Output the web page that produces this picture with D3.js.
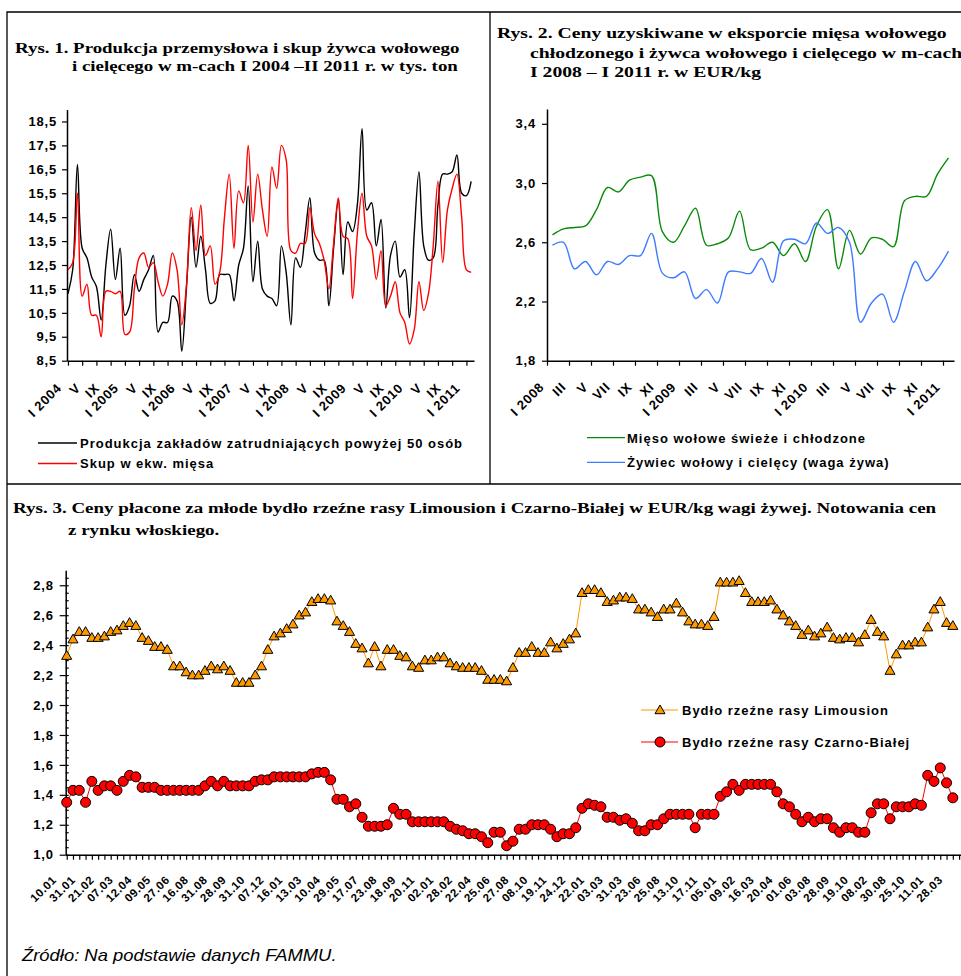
<!DOCTYPE html>
<html>
<head>
<meta charset="utf-8">
<script src="https://cdn.jsdelivr.net/npm/d3@7"></script>
<style>
  body { margin: 0; background: #fff; }
  .title { font-family: "Liberation Serif", "Times New Roman", serif; font-weight: bold; font-size: 15.5px; }
  .lbl { font-family: "Liberation Sans", Arial, sans-serif; font-weight: bold; }
</style>
</head>
<body>
<svg id="chart" width="961" height="976"></svg>
<script>
// Rys. 1 - monthly, I 2004 .. II 2011 (tys. ton)
const fig1Labels = ["I 2004", "V", "IX", "I 2005", "V", "IX", "I 2006", "V", "IX", "I 2007", "V", "IX",
    "I 2008", "V", "IX", "I 2009", "V", "IX", "I 2010", "V", "IX", "I 2011"];
const fig1Production = [11.3, 12.3, 16.7, 13.2, 12.8, 12.0, 11.6, 10.2, 12.5, 14.0,
    11.9, 13.2, 10.4, 10.8, 12.1, 11.4, 11.9, 12.3, 12.9, 9.7,
    10.1, 10.1, 11.2, 11.0, 8.9, 11.6, 14.5, 12.4, 13.7, 12.3,
    10.9, 11.0, 12.1, 12.1, 12.1, 11.0, 12.5, 13.2, 15.8, 11.8,
    13.5, 11.5, 11.2, 11.1, 10.8, 13.3, 12.2, 10.0, 12.8, 12.4,
    13.8, 15.3, 13.0, 12.7, 12.7, 10.8, 13.2, 15.2, 12.1, 14.3,
    13.9, 15.0, 18.2, 14.8, 15.1, 13.3, 14.4, 10.7, 12.9, 13.5,
    12.0, 12.3, 10.3, 13.8, 16.4, 13.3, 12.7, 12.8, 15.0, 16.3,
    16.3, 16.4, 17.1, 15.5, 15.4, 16.0];
const fig1Purchase = [12.3, 12.6, 15.5, 11.2, 11.7, 10.4, 10.4, 9.5, 11.4, 11.4,
    11.3, 11.4, 9.6, 9.7, 11.5, 12.8, 13.0, 12.4, 12.6, 11.8,
    11.2, 11.7, 13.0, 12.3, 10.0, 11.7, 14.9, 13.1, 15.0, 12.9,
    13.3, 11.7, 12.2, 14.5, 16.3, 13.2, 15.6, 15.1, 17.5, 14.3,
    16.3, 14.8, 13.7, 16.6, 15.7, 17.5, 16.9, 13.1, 13.0, 13.4,
    13.4, 14.9, 13.8, 13.4, 12.7, 11.5, 13.4, 15.3, 13.7, 13.6,
    11.1, 13.8, 15.5, 13.7, 13.3, 11.9, 13.1, 10.8, 11.2, 11.8,
    10.5, 10.1, 9.2, 9.8, 11.8, 10.6, 11.3, 13.3, 16.0, 12.6,
    14.8, 15.7, 16.3, 14.5, 12.3, 12.2];
const fig1Ticks = [8.5, 9.5, 10.5, 11.5, 12.5, 13.5, 14.5, 15.5, 16.5, 17.5, 18.5];
const fig1Legend = ["Produkcja zakładów zatrudniających powyżej 50 osób", "Skup w ekw. mięsa"];

// Rys. 2 - monthly, I 2008 .. I 2011 (EUR/kg)
const fig2Labels = ["I 2008", "III", "V", "VII", "IX", "XI", "I 2009", "III", "V", "VII", "IX", "XI",
    "I 2010", "III", "V", "VII", "IX", "XI", "I 2011"];
const fig2Meat = [2.65, 2.69, 2.70, 2.71, 2.82, 2.97, 2.94, 3.02, 3.04, 3.05,
    2.67, 2.60, 2.71, 2.83, 2.58, 2.59, 2.63, 2.81, 2.55, 2.56,
    2.60, 2.51, 2.59, 2.47, 2.71, 2.82, 2.42, 2.68, 2.52, 2.63,
    2.62, 2.57, 2.88, 2.91, 2.91, 3.06, 3.17];
const fig2Live = [2.58, 2.60, 2.42, 2.47, 2.38, 2.47, 2.45, 2.51, 2.51, 2.66,
    2.39, 2.36, 2.40, 2.22, 2.28, 2.19, 2.40, 2.40, 2.39, 2.49,
    2.33, 2.61, 2.62, 2.59, 2.73, 2.66, 2.70, 2.60, 2.06, 2.19,
    2.25, 2.06, 2.27, 2.47, 2.34, 2.42, 2.54];
const fig2Ticks = [1.8, 2.2, 2.6, 3.0, 3.4];
const fig2Legend = ["Mięso wołowe świeże i chłodzone", "Żywiec wołowy i cielęcy (waga żywa)"];

// Rys. 3 - weekly quotations (EUR/kg), labels on every third quotation
const fig3Labels = ["10.01", "31.01", "21.02", "07.03", "12.04", "09.05", "27.06", "16.08", "31.08", "28.09",
    "31.10", "07.12", "16.01", "13.03", "10.04", "29.05", "17.07", "23.08", "18.09", "20.11",
    "02.01", "28.02", "22.04", "25.06", "27.08", "08.10", "19.11", "24.12", "22.01", "03.03",
    "31.03", "23.06", "25.08", "13.10", "17.11", "05.01", "09.02", "16.03", "20.04", "01.06",
    "03.08", "28.09", "19.10", "08.02", "30.08", "25.10", "11.01", "28.03"];
const fig3Limousin = [2.33, 2.44, 2.49, 2.49, 2.45, 2.45, 2.46, 2.49, 2.50, 2.53,
    2.55, 2.53, 2.45, 2.43, 2.39, 2.39, 2.37, 2.26, 2.26, 2.22,
    2.20, 2.20, 2.23, 2.26, 2.24, 2.26, 2.23, 2.15, 2.15, 2.15,
    2.20, 2.26, 2.37, 2.46, 2.48, 2.51, 2.54, 2.60, 2.62, 2.69,
    2.71, 2.71, 2.70, 2.56, 2.53, 2.49, 2.41, 2.38, 2.28, 2.39,
    2.26, 2.37, 2.37, 2.33, 2.32, 2.26, 2.25, 2.30, 2.30, 2.32,
    2.32, 2.28, 2.26, 2.25, 2.25, 2.25, 2.23, 2.17, 2.17, 2.17,
    2.16, 2.25, 2.35, 2.35, 2.39, 2.35, 2.35, 2.42, 2.38, 2.41,
    2.44, 2.48, 2.75, 2.77, 2.77, 2.75, 2.69, 2.70, 2.72, 2.72,
    2.71, 2.64, 2.64, 2.62, 2.59, 2.64, 2.64, 2.68, 2.62, 2.56,
    2.54, 2.54, 2.53, 2.59, 2.82, 2.82, 2.82, 2.83, 2.75, 2.69,
    2.69, 2.69, 2.70, 2.64, 2.60, 2.56, 2.53, 2.47, 2.50, 2.46,
    2.48, 2.52, 2.45, 2.44, 2.45, 2.45, 2.42, 2.47, 2.57, 2.49,
    2.46, 2.23, 2.34, 2.40, 2.40, 2.42, 2.42, 2.52, 2.64, 2.69,
    2.55, 2.53];
const fig3BlackWhite = [1.35, 1.43, 1.43, 1.35, 1.49, 1.43, 1.46, 1.46, 1.43, 1.49,
    1.53, 1.52, 1.45, 1.45, 1.45, 1.43, 1.43, 1.43, 1.43, 1.43,
    1.43, 1.43, 1.46, 1.49, 1.46, 1.49, 1.46, 1.46, 1.46, 1.46,
    1.49, 1.50, 1.50, 1.52, 1.52, 1.52, 1.52, 1.52, 1.52, 1.54,
    1.55, 1.55, 1.50, 1.37, 1.37, 1.32, 1.34, 1.25, 1.19, 1.19,
    1.19, 1.20, 1.31, 1.27, 1.27, 1.22, 1.22, 1.22, 1.22, 1.22,
    1.22, 1.19, 1.17, 1.16, 1.14, 1.14, 1.12, 1.08, 1.15, 1.15,
    1.06, 1.09, 1.17, 1.17, 1.20, 1.20, 1.20, 1.17, 1.12, 1.14,
    1.14, 1.18, 1.31, 1.34, 1.33, 1.32, 1.25, 1.25, 1.23, 1.24,
    1.21, 1.16, 1.16, 1.20, 1.20, 1.24, 1.27, 1.27, 1.27, 1.27,
    1.18, 1.27, 1.27, 1.27, 1.39, 1.42, 1.47, 1.43, 1.47, 1.47,
    1.47, 1.47, 1.47, 1.42, 1.34, 1.32, 1.27, 1.22, 1.25, 1.22,
    1.24, 1.24, 1.18, 1.15, 1.18, 1.18, 1.15, 1.15, 1.28, 1.34,
    1.34, 1.24, 1.32, 1.32, 1.32, 1.34, 1.33, 1.53, 1.49, 1.58,
    1.48, 1.38];
const fig3Ticks = [1.0, 1.2, 1.4, 1.6, 1.8, 2.0, 2.2, 2.4, 2.6, 2.8];
const fig3Legend = ["Bydło rzeźne rasy Limousion", "Bydło rzeźne rasy Czarno-Białej"];

const comma = (d) => d.toFixed(1).replace(".", ",");

const svg = d3.select("#chart");

// frames
const frame = svg.append("g").attr("fill", "none").attr("stroke", "#000").attr("stroke-width", 1.3);
frame.append("path").attr("d", "M7,976V12H961");
frame.append("path").attr("d", "M490,12V484");
frame.append("path").attr("d", "M7,484H961");

// the source figure is stretched sideways, so text is widened too
function title(lines, sx) {
    lines.forEach(([x, y, s]) => svg.append("text").attr("class", "title")
        .attr("transform", `translate(${x},${y}) scale(${sx},1)`).text(s));
}

function styleAxis(g, size, spacing = 0.8) {
    g.attr("font-family", null).attr("font-size", null);
    g.selectAll("text").attr("class", "lbl").style("font-size", size + "px").style("letter-spacing", spacing + "px");
    g.select(".domain").attr("stroke-width", 1.5);
    g.selectAll(".tick line").attr("stroke-width", 1.2);
}

function rotateLabels(g, dx, dy) {
    g.selectAll("text")
        .attr("y", null).attr("dy", null)
        .attr("text-anchor", "end")
        .attr("transform", `translate(${dx},${dy}) rotate(-45)`);
}

function legendText(x, y, s) {
    svg.append("text").attr("class", "lbl").attr("x", x).attr("y", y).style("font-size", "13px")
        .style("letter-spacing", "1px").text(s);
}

// ---------- Rys. 1 ----------
title([[15, 53, "Rys. 1. Produkcja przemysłowa i skup żywca wołowego"],
       [72, 71, "i cielęcego w  m-cach I 2004 –II 2011 r. w tys. ton"]], 1.22);

const x1 = d3.scaleLinear().domain([-0.2, 85.6]).range([67, 474]);
const y1 = d3.scaleLinear().domain([8.5, 19]).range([360.7, 109.5]);

svg.append("g").attr("transform", "translate(67,0)")
    .call(d3.axisLeft(y1).tickValues(fig1Ticks).tickSize(5).tickPadding(5).tickSizeOuter(0).tickFormat(comma))
    .call((g) => styleAxis(g, 13));

svg.append("g").attr("transform", "translate(0,360.7)")
    .call(d3.axisBottom(x1).tickValues(d3.range(0, 86, 3)).tickSize(5).tickSizeOuter(0).tickFormat(""))
    .call((g) => styleAxis(g, 13));

svg.append("g").attr("transform", "translate(0,360.7)")
    .call(d3.axisBottom(x1).tickValues(fig1Labels.map((_, i) => i * 4)).tickSize(0).tickFormat((d) => fig1Labels[d / 4]))
    .call((g) => { styleAxis(g, 13); g.select(".domain").remove(); rotateLabels(g, -6, 28); });

const line1 = (vals) => d3.line().x((d, i) => x1(i)).y((d) => y1(d)).curve(d3.curveCatmullRom.alpha(0.5))(vals);
svg.append("path").attr("d", line1(fig1Production)).attr("fill", "none").attr("stroke", "#000").attr("stroke-width", 1.4);
svg.append("path").attr("d", line1(fig1Purchase)).attr("fill", "none").attr("stroke", "#ff0000").attr("stroke-width", 1.4);

[["#000", 0], ["#ff0000", 1]].forEach(([c, i]) => {
    const y = 443 + i * 20.5;
    svg.append("line").attr("x1", 38).attr("x2", 77).attr("y1", y).attr("y2", y).attr("stroke", c).attr("stroke-width", 1.3);
    legendText(80, y + 4.5, fig1Legend[i]);
});

// ---------- Rys. 2 ----------
title([[497, 38, "Rys. 2. Ceny uzyskiwane w eksporcie mięsa wołowego"],
       [530, 57.5, "chłodzonego i żywca wołowego i cielęcego w m-cach"],
       [530, 77, "I 2008 – I 2011 r. w EUR/kg"]], 1.27);

const x2 = d3.scaleLinear().domain([0, 37]).range([547, 954]);
const y2 = d3.scaleLinear().domain([1.8, 3.5]).range([360.7, 109]);

svg.append("g").attr("transform", "translate(547,0)")
    .call(d3.axisLeft(y2).tickValues(fig2Ticks).tickSize(5).tickPadding(6).tickSizeOuter(0).tickFormat(comma))
    .call((g) => styleAxis(g, 13));

svg.append("g").attr("transform", "translate(0,360.7)")
    .call(d3.axisBottom(x2).tickValues(d3.range(0, 37, 2)).tickSize(5).tickSizeOuter(0).tickFormat(""))
    .call((g) => styleAxis(g, 13));

svg.append("g").attr("transform", "translate(0,360.7)")
    .call(d3.axisBottom(x2).tickValues(fig2Labels.map((_, i) => i * 2 + 0.5)).tickSize(0)
        .tickFormat((d) => fig2Labels[(d - 0.5) / 2]))
    .call((g) => { styleAxis(g, 13); g.select(".domain").remove(); rotateLabels(g, -8, 27); });

const line2 = (vals) => d3.line().x((d, i) => x2(i + 0.5)).y((d) => y2(d)).curve(d3.curveCatmullRom.alpha(0.5))(vals);
svg.append("path").attr("d", line2(fig2Meat)).attr("fill", "none").attr("stroke", "#0a8a0a").attr("stroke-width", 1.4);
svg.append("path").attr("d", line2(fig2Live)).attr("fill", "none").attr("stroke", "#3d7bff").attr("stroke-width", 1.4);

[["#0a8a0a", 0], ["#3d7bff", 1]].forEach(([c, i]) => {
    const y = 437.7 + i * 24.6;
    svg.append("line").attr("x1", 587).attr("x2", 625).attr("y1", y).attr("y2", y).attr("stroke", c).attr("stroke-width", 1.3);
    legendText(627, y + 5, fig2Legend[i]);
});

// ---------- Rys. 3 ----------
title([[13, 513, "Rys. 3. Ceny płacone za młode bydło rzeźne rasy Limousion i Czarno-Białej w EUR/kg wagi żywej. Notowania cen"],
       [68, 535, "z rynku włoskiego."]], 1.225);

const x3 = d3.scaleLinear().domain([-0.16, 142.3]).range([65.7, 961]);
const y3 = d3.scaleLinear().domain([1.0, 2.9]).range([854.7, 570.3]);

svg.append("g").attr("transform", "translate(65.7,0)")
    .call(d3.axisRight(y3).tickValues(d3.range(1.0, 2.9, 0.05)).tickSize(3).tickFormat(""))
    .call((g) => { styleAxis(g, 13); g.select(".domain").remove(); });
svg.append("g").attr("transform", "translate(65.7,0)")
    .call(d3.axisLeft(y3).tickValues(fig3Ticks).tickSize(6).tickPadding(6).tickSizeOuter(0).tickFormat(comma))
    .call((g) => styleAxis(g, 13));

svg.append("g").attr("transform", "translate(0,854.7)")
    .call(d3.axisBottom(x3).tickValues(d3.range(0, 143)).tickSize(5).tickSizeOuter(0).tickFormat(""))
    .call((g) => styleAxis(g, 11));

svg.append("g").attr("transform", "translate(0,854.7)")
    .call(d3.axisBottom(x3).tickValues(fig3Labels.map((_, i) => i * 3)).tickSize(0).tickFormat((d) => fig3Labels[d / 3]))
    .call((g) => { styleAxis(g, 11.5, 0.5); g.select(".domain").remove(); rotateLabels(g, -10, 26); });

const line3 = d3.line().x((d, i) => x3(i)).y((d) => y3(d));
svg.append("path").attr("d", line3(fig3Limousin)).attr("fill", "none").attr("stroke", "#ff9900").attr("stroke-width", 1);
svg.append("path").attr("d", line3(fig3BlackWhite)).attr("fill", "none").attr("stroke", "#ff0000").attr("stroke-width", 1);

const tri = d3.symbol().type(d3.symbolTriangle).size(44);
svg.append("g").selectAll("path").data(fig3Limousin).join("path")
    .attr("d", tri).attr("transform", (d, i) => `translate(${x3(i)},${y3(d) + 0.8})`)
    .attr("fill", "#ff9900").attr("stroke", "#000").attr("stroke-width", 1);
svg.append("g").selectAll("circle").data(fig3BlackWhite).join("circle")
    .attr("cx", (d, i) => x3(i)).attr("cy", (d) => y3(d)).attr("r", 5)
    .attr("fill", "#ff0000").attr("stroke", "#000").attr("stroke-width", 1);

// legend
[["#ff9900", 0, tri], ["#ff0000", 1, null]].forEach(([c, i, m]) => {
    const y = 710 + i * 32;
    svg.append("line").attr("x1", 641).attr("x2", 678).attr("y1", y).attr("y2", y).attr("stroke", c).attr("stroke-width", 1);
    if (m) {
        svg.append("path").attr("d", m).attr("transform", `translate(660,${y + 0.8})`)
            .attr("fill", c).attr("stroke", "#000");
    } else {
        svg.append("circle").attr("cx", 660).attr("cy", y).attr("r", 5).attr("fill", c).attr("stroke", "#000");
    }
    legendText(682, y + 5, fig3Legend[i]);
});

svg.append("text").attr("transform", "translate(22,961) scale(1.15,1)")
    .style("font-family", "'Liberation Sans', Arial, sans-serif").style("font-style", "italic").style("font-size", "16px")
    .text("Źródło: Na podstawie danych FAMMU.");
</script>
</body>
</html>
